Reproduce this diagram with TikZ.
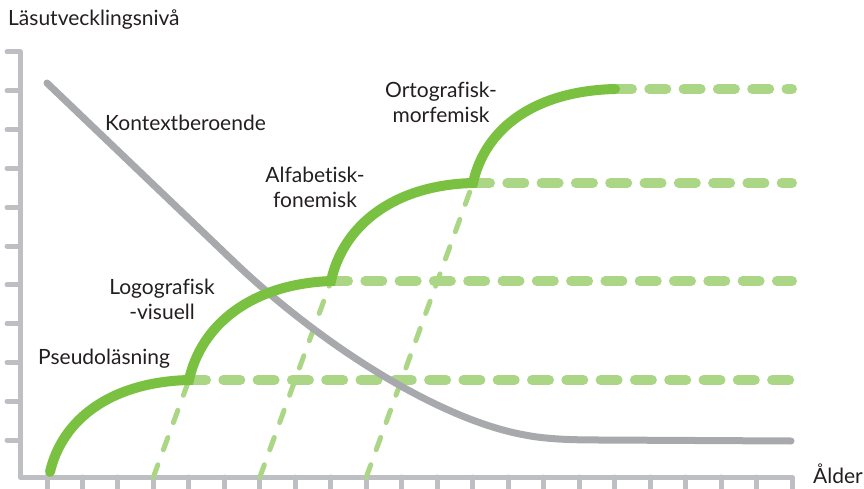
\documentclass[tikz,border=0pt]{standalone}
\usepackage{fontspec}
\setmainfont{Lato}[Ligatures=CommonOff]
\usetikzlibrary{positioning}

\definecolor{axisgray}{RGB}{190,191,194}
\definecolor{curvegray}{RGB}{167,169,172}
\definecolor{stagegreen}{RGB}{122,193,66}
\definecolor{palegreen}{RGB}{171,214,133}
\definecolor{labelink}{RGB}{35,31,32}

\begin{document}
\begin{tikzpicture}[x=1pt,y=-1pt,
    axisline/.style={axisgray, line width=5pt, line cap=round, line join=round},
    contextline/.style={curvegray, line width=7pt, line cap=round},
    stageline/.style={stagegreen, line width=10pt, line cap=round},
    levelline/.style={palegreen, line width=10pt, line cap=round, dash pattern=on 17pt off 17.3pt},
    ageline/.style={palegreen, line width=5pt, line cap=round, dash pattern=on 13pt off 16pt},
    lbl/.style={text=labelink, font=\fontsize{21}{25}\selectfont, inner sep=0pt}]
    \useasboundingbox (0,0) rectangle (864,489);

    % axes
    \coordinate (O) at (20,477);
    \coordinate (Ytop) at (20,52);
    \coordinate (Xend) at (792,477);
    \draw[axisline] (7,52) -- (Ytop) -- (O) -- (Xend) -- (792,489);
    \foreach \k in {1,...,10}
        \draw[axisline] (7,{52+38.8*\k}) -- (20,{52+38.8*\k});
    \foreach \k in {0,...,20}
        \draw[axisline] ({47+35.476*\k},477) -- ({47+35.476*\k},489);

    % stage points
    \coordinate (S0) at (50,472);
    \coordinate (S1) at (189,380);
    \coordinate (S2) at (331,281);
    \coordinate (S3) at (473,183);
    \coordinate (S4) at (615,89);
    \coordinate (A1) at (153.4,477);
    \coordinate (A2) at (259.9,477);
    \coordinate (A3) at (366.3,477);

    % dashed guide lines
    \foreach \p in {S1,S2,S3,S4}
        \draw[levelline] (\p) -- (\p -| Xend);
    \draw[ageline] (A1) -- (S1);
    \draw[ageline] (A2) -- (S2);
    \draw[ageline] (A3) -- (S3);

    % context curve
    \draw[contextline] (47,83) -- (230,258) .. controls (320,345) and (440,420) .. (525,435)
        .. controls (545,439) and (570,440) .. (600,440) -- (791,441);

    % reading development
    \draw[stageline] (S0) .. controls (62,420) and (110,382) .. (S1)
        .. controls (201,325) and (251,284) .. (S2)
        .. controls (343,226) and (393,185) .. (S3)
        .. controls (485,128) and (535,91) .. (S4);

    % labels
    \node[lbl, anchor=base west] (yname) at (8,26) {Läsutvecklingsnivå};
    \node[lbl, anchor=base west] (xname) at (813,483) {Ålder};
    \node[lbl, anchor=base west] (kontext) at (105,131) {Kontextberoende};
    \node[lbl, anchor=base west] (pseudo) at (38,364) {Pseudoläsning};
    \node[lbl, align=center] (logo) at (162,299) {Logografisk\\-visuell};
    \node[lbl, align=center] (alfa) at (315,187) {Alfabetisk-\\fonemisk};
    \node[lbl, align=center] (orto) at (441,102) {Ortografisk-\\morfemisk};
\end{tikzpicture}
\end{document}
